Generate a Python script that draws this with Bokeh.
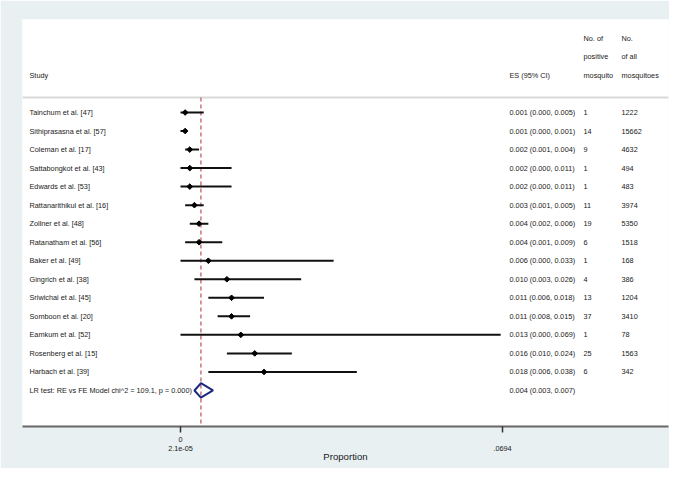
from bokeh.plotting import figure
from bokeh.models import Range1d, LinearAxis, FixedTicker, ColumnDataSource
from bokeh.core.properties import value
from bokeh.embed import file_html
from bokeh.resources import INLINE
import math

# ---------------- data ----------------
studies = ["Tainchum et al. [47]", "Sithiprasasna et al. [57]", "Coleman et al. [17]",
           "Sattabongkot et al. [43]", "Edwards et al. [53]", "Rattanarithikul et al. [16]",
           "Zollner et al. [48]", "Ratanatham et al. [56]", "Baker et al. [49]",
           "Gingrich et al. [38]", "Sriwichai et al. [45]", "Somboon et al. [20]",
           "Eamkum et al. [52]", "Rosenberg et al. [15]", "Harbach et al. [39]"]
es = [0.001, 0.001, 0.002, 0.002, 0.002, 0.003, 0.004, 0.004, 0.006,
      0.010, 0.011, 0.011, 0.013, 0.016, 0.018]
lo = [0.000, 0.000, 0.001, 0.000, 0.000, 0.001, 0.002, 0.001, 0.000,
      0.003, 0.006, 0.008, 0.000, 0.010, 0.006]
hi = [0.005, 0.001, 0.004, 0.011, 0.011, 0.005, 0.006, 0.009, 0.033,
      0.026, 0.018, 0.015, 0.069, 0.024, 0.038]
n_pos = [1, 14, 9, 1, 1, 11, 19, 6, 1, 4, 13, 37, 1, 25, 6]
n_all = [1222, 15662, 4632, 494, 483, 3974, 5350, 1518, 168, 386, 1204, 3410, 78, 1563, 342]

pooled_label = "LR test: RE vs FE Model chi^2 = 109.1, p = 0.000)"
pooled_es = 0.0044
pooled_lo = 0.003
pooled_hi = 0.007
pooled_text = "0.004 (0.003, 0.007)"

tick_vals = [0.0, 0.0694]
tick_top = {0.0: "0", 0.0694: " "}
tick_bottom = {0.0: "2.1e-05", 0.0694: ".0694"}
x_title = "Proportion"

# ---------------- styling ----------------
BG = "#e8f0f2"
FONT = "Liberation Sans"
FS = "7.3px"
TXT = "#1a1a1a"

n = len(studies)
rows = list(range(n))
pooled_row = n

X0, X1 = -0.034052, 0.105172
Y0, Y1 = 16.945, -5.019

p = figure(width=669, height=468,
           x_range=Range1d(X0, X1),
           y_range=Range1d(Y0, Y1),
           output_backend="svg", toolbar_location=None,
           x_axis_location=None, y_axis_location=None,
           min_border_left=22, min_border_right=1, min_border_top=19, min_border_bottom=42)
p.background_fill_color = "white"
p.border_fill_color = BG
p.outline_line_color = None
p.xgrid.visible = False
p.ygrid.visible = False

# header separator
p.segment(x0=[X0], x1=[X1], y0=[-0.81], y1=[-0.81], line_color="#d9d9d9", line_width=2)

# pooled dashed line
p.segment(x0=[pooled_es], x1=[pooled_es], y0=[-0.81], y1=[Y0],
          line_color="#bf5f6a", line_width=1.3, line_dash="4 3")

src = ColumnDataSource(dict(
    y=rows, es=es, lo=lo, hi=hi, study=studies,
    estxt=[f"{a:.3f} ({b:.3f}, {c:.3f})" for a, b, c in zip(es, lo, hi)],
    npos=[str(v) for v in n_pos], nall=[str(v) for v in n_all]))

p.segment(x0="lo", x1="hi", y0="y", y1="y", source=src, line_color="#111111", line_width=2)
p.scatter(x="es", y="y", source=src, marker="square", angle=math.pi / 4, size=4.0,
          fill_color="black", line_color="black")

# pooled diamond
h = 0.39
p.patch(x=[pooled_lo, pooled_es, pooled_hi, pooled_es],
        y=[pooled_row, pooled_row - h, pooled_row, pooled_row + h],
        fill_color=None, line_color="#1b2a7e", line_width=2)


def col_text(texts, ys, offset):
    p.text(x=[X0] * len(texts), y=ys, text=texts, x_offset=offset,
           text_font=value(FONT), text_font_size=FS, text_color=TXT,
           text_baseline="middle", text_align="left")


col_text(studies + [pooled_label], rows + [pooled_row], 7)
col_text(list(src.data["estxt"]) + [pooled_text], rows + [pooled_row], 487)
col_text(list(src.data["npos"]), rows, 561)
col_text(list(src.data["nall"]), rows, 599)

# headers
col_text(["Study"], [-2], 7)
col_text(["ES (95% CI)"], [-2], 487)
col_text(["No. of", "positive", "mosquito"], [-4, -3, -2], 561)
col_text(["No.", "of all", "mosquitoes"], [-4, -3, -2], 599)

# x axes
ax1 = LinearAxis(ticker=FixedTicker(ticks=tick_vals), major_label_overrides=tick_top)
ax1.axis_line_color = "#666666"
ax1.axis_line_width = 2
ax1.major_tick_line_color = "#333333"
ax1.major_tick_line_width = 1.5
ax1.major_tick_out = 6
ax1.major_tick_in = 0
ax1.minor_tick_line_color = None
ax1.major_label_standoff = 2
ax1.major_label_text_font = FONT
ax1.major_label_text_font_size = FS
ax1.major_label_text_color = TXT

ax2 = LinearAxis(ticker=FixedTicker(ticks=tick_vals), major_label_overrides=tick_bottom)
ax2.axis_line_color = None
ax2.major_tick_line_color = None
ax2.minor_tick_line_color = None
ax2.major_tick_out = 0
ax2.major_tick_in = 0
ax2.major_label_standoff = -1
ax2.major_label_text_font = FONT
ax2.major_label_text_font_size = FS
ax2.major_label_text_color = TXT
ax2.axis_label = x_title
ax2.axis_label_text_font = FONT
ax2.axis_label_text_font_size = "9.6px"
ax2.axis_label_text_font_style = "normal"
ax2.axis_label_text_color = TXT
ax2.axis_label_standoff = -3

p.add_layout(ax1, "below")
p.add_layout(ax2, "below")

open("out.html", "w").write(file_html(p, INLINE))
